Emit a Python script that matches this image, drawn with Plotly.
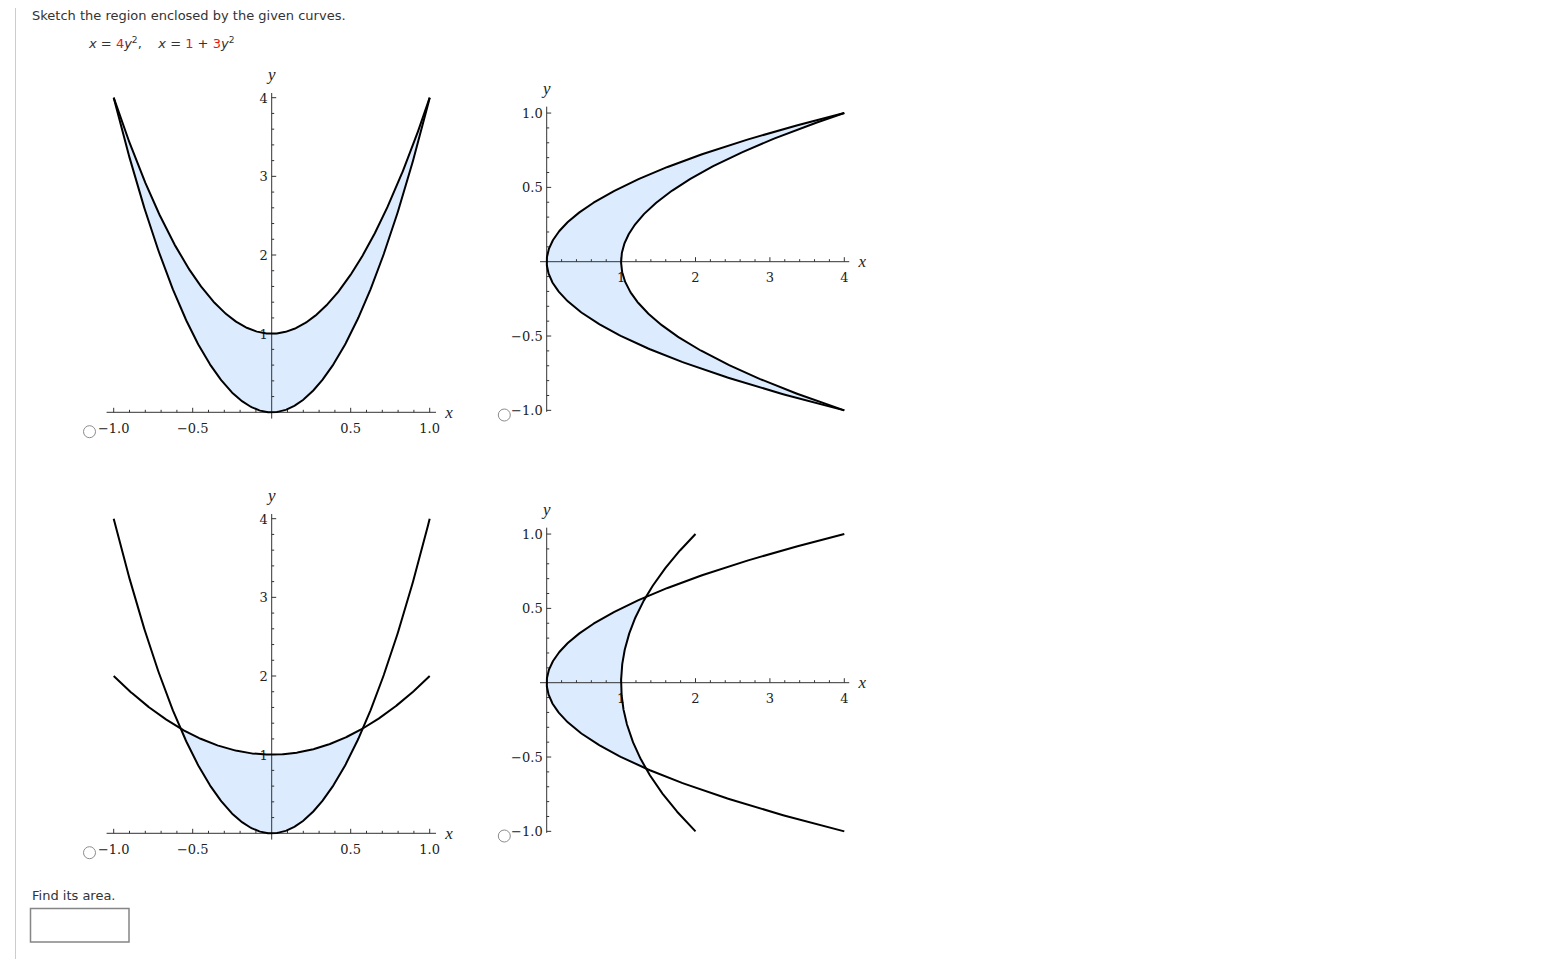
import numpy as np
import plotly.graph_objects as go

# ---------------- data ----------------
# each curve is  value = a * t^2 + b
CURVE_4Y2 = [4.0, 0.0]        # x = 4y^2
CURVE_1P3Y2 = [3.0, 1.0]      # x = 1 + 3y^2
CURVE_1PY2 = [1.0, 1.0]       # distractor: x = 1 + y^2
PARAM_RANGE = [-1.0, 1.0]     # parameter range drawn in every panel

PANEL_CURVES = [[CURVE_4Y2, CURVE_1P3Y2], [CURVE_4Y2, CURVE_1P3Y2],
                [CURVE_4Y2, CURVE_1PY2], [CURVE_4Y2, CURVE_1PY2]]
PANEL_ORIENT = ["y_of_x", "x_of_y", "y_of_x", "x_of_y"]

# tick definitions
UP_X_MAJOR = [-1.0, -0.5, 0.5, 1.0]
UP_X_LABELS = ["\u22121.0", "\u22120.5", "0.5", "1.0"]
UP_X_MINOR_STEP = 0.1
UP_Y_MAJOR = [1, 2, 3, 4]
UP_Y_LABELS = ["1", "2", "3", "4"]
UP_Y_MINOR_STEP = 0.2

SIDE_X_MAJOR = [1, 2, 3, 4]
SIDE_X_LABELS = ["1", "2", "3", "4"]
SIDE_X_MINOR_STEP = 0.2
SIDE_Y_MAJOR = [-1.0, -0.5, 0.5, 1.0]
SIDE_Y_LABELS = ["\u22121.0", "\u22120.5", "0.5", "1.0"]
SIDE_Y_MINOR_STEP = 0.1

# ---------------- layout helpers ----------------
W, H, OFF = 1528, 951, 8          # body has an 8px margin in the written page


def px(X):
    return (X - OFF) / W


def py(Y):
    return 1 - (Y - OFF) / H


# pixel origin/scale/box of each panel
PANELS = [
    dict(ox=271.7, oy=412.3, sx=158.0, sy=78.65, box=(70, 470, 55, 450)),
    dict(ox=546.7, oy=261.7, sx=74.4, sy=148.65, box=(480, 885, 75, 440)),
    dict(ox=271.7, oy=833.3, sx=158.0, sy=78.65, box=(70, 470, 476, 871)),
    dict(ox=546.7, oy=682.7, sx=74.4, sy=148.65, box=(480, 885, 496, 861)),
]
AXIS_EXT = [
    dict(x=(-1.045, 1.04), y=(-0.08, 4.06)),
    dict(x=(-0.09, 4.067), y=(-1.01, 1.043)),
    dict(x=(-1.045, 1.04), y=(-0.08, 4.06)),
    dict(x=(-0.09, 4.067), y=(-1.01, 1.043)),
]

FILL = "#DCECFE"
CURVE_COLOR = "#000000"
AXIS_COLOR = "#333333"
TICK_FONT = dict(family="DejaVu Serif", size=13, color="#222222")
LABEL_FONT = dict(family="Liberation Serif", size=17, color="#222222")

fig = go.Figure()


def minor_ticks(lo, hi, step):
    n = int(round((hi - lo) / step))
    return [round(lo + k * step, 6) for k in range(n + 1)]


for i, P in enumerate(PANELS):
    xa = "x" if i == 0 else f"x{i+1}"
    ya = "y" if i == 0 else f"y{i+1}"
    ox, oy, sx, sy = P["ox"], P["oy"], P["sx"], P["sy"]
    left, right, top, bottom = P["box"]
    kw = dict(xaxis=xa, yaxis=ya, showlegend=False, hoverinfo="skip")

    c1, c2 = PANEL_CURVES[i]
    orient = PANEL_ORIENT[i]
    # intersection parameter
    T = np.sqrt((c2[1] - c1[1]) / (c1[0] - c2[0]))
    T = min(T, PARAM_RANGE[1])
    t = np.linspace(-T, T, 300)
    v1 = c1[0] * t ** 2 + c1[1]
    v2 = c2[0] * t ** 2 + c2[1]
    pt = np.concatenate([t, t[::-1]])
    pv = np.concatenate([v1, v2[::-1]])
    if orient == "y_of_x":
        fx, fy = pt, pv
    else:
        fx, fy = pv, pt
    fig.add_trace(go.Scatter(x=fx, y=fy, mode="lines", fill="toself",
                             fillcolor=FILL, line=dict(width=0), **kw))

    # axes lines
    ext = AXIS_EXT[i]
    fig.add_trace(go.Scatter(x=[ext["x"][0], ext["x"][1], None, 0, 0],
                             y=[0, 0, None, ext["y"][0], ext["y"][1]],
                             mode="lines", line=dict(color=AXIS_COLOR, width=1), **kw))

    if orient == "y_of_x":
        xmaj, xlab, xstep = UP_X_MAJOR, UP_X_LABELS, UP_X_MINOR_STEP
        ymaj, ylab, ystep = UP_Y_MAJOR, UP_Y_LABELS, UP_Y_MINOR_STEP
        xmin_range = (-1.0, 1.0)
        ymin_range = (0.0, 4.0)
    else:
        xmaj, xlab, xstep = SIDE_X_MAJOR, SIDE_X_LABELS, SIDE_X_MINOR_STEP
        ymaj, ylab, ystep = SIDE_Y_MAJOR, SIDE_Y_LABELS, SIDE_Y_MINOR_STEP
        xmin_range = (0.0, 4.0)
        ymin_range = (-1.0, 1.0)

    MAJ, MIN = 4.5, 2.5
    tx, ty = [], []
    for v in minor_ticks(xmin_range[0], xmin_range[1], xstep):
        if abs(v) < 1e-9:
            continue
        L = MAJ if any(abs(v - m) < 1e-9 for m in xmaj) else MIN
        tx += [v, v, None]
        ty += [0, L / sy, None]
    for v in minor_ticks(ymin_range[0], ymin_range[1], ystep):
        if abs(v) < 1e-9:
            continue
        L = MAJ if any(abs(v - m) < 1e-9 for m in ymaj) else MIN
        tx += [0, L / sx, None]
        ty += [v, v, None]
    fig.add_trace(go.Scatter(x=tx, y=ty, mode="lines",
                             line=dict(color=AXIS_COLOR, width=1), **kw))

    # tick labels (below the curves)
    fig.add_trace(go.Scatter(x=xmaj, y=[-17.5 / sy] * len(xmaj), mode="text",
                             text=xlab, textposition="middle center",
                             textfont=TICK_FONT, **kw))
    fig.add_trace(go.Scatter(x=[-4.0 / sx] * len(ymaj),
                             y=[m - 1.8 / sy for m in ymaj], mode="text",
                             text=ylab, textposition="middle left",
                             textfont=TICK_FONT, **kw))
    # axis names
    fig.add_trace(go.Scatter(x=[(ext["x"][1] * sx + 13) / sx, 0],
                             y=[-1.5 / sy, (ext["y"][1] * sy + 17) / sy],
                             mode="text", text=["<i>x</i>", "<i>y</i>"],
                             textposition="middle center", textfont=LABEL_FONT, **kw))

    # curves over full parameter range
    tt = np.linspace(PARAM_RANGE[0], PARAM_RANGE[1], 400)
    for c in (c1, c2):
        vv = c[0] * tt ** 2 + c[1]
        cx, cy = (tt, vv) if orient == "y_of_x" else (vv, tt)
        fig.add_trace(go.Scatter(x=cx, y=cy, mode="lines",
                                 line=dict(color=CURVE_COLOR, width=2), **kw))

    xr = [(left - ox) / sx, (right - ox) / sx]
    yr = [(oy - bottom) / sy, (oy - top) / sy]
    axkey = "xaxis" if i == 0 else f"xaxis{i+1}"
    aykey = "yaxis" if i == 0 else f"yaxis{i+1}"
    fig.update_layout(**{
        axkey: dict(domain=[px(left), px(right)], range=xr, visible=False,
                    anchor=ya, fixedrange=True),
        aykey: dict(domain=[py(bottom), py(top)], range=yr, visible=False,
                    anchor=xa, fixedrange=True),
    })

# ---------------- page furniture ----------------
shapes = []
# left border
shapes.append(dict(type="line", xref="paper", yref="paper",
                   x0=px(15.5), x1=px(15.5), y0=-0.01, y1=1.01,
                   line=dict(color="#CCCCCC", width=1)))
# radio buttons
for cx, cy in [(89.5, 431.7), (504.3, 415.0), (89.5, 852.7), (504.3, 836.0)]:
    r = 6
    shapes.append(dict(type="circle", xref="paper", yref="paper",
                       x0=px(cx - r), x1=px(cx + r), y0=py(cy + r), y1=py(cy - r),
                       line=dict(color="#8C8C8C", width=1), fillcolor="white"))
# answer box
shapes.append(dict(type="rect", xref="paper", yref="paper",
                   x0=px(30.5), x1=px(129), y0=py(942), y1=py(908.5),
                   line=dict(color="#858585", width=1.5)))

TEXT_FONT = dict(family="DejaVu Sans", size=13, color="#333333")
RED = "#E8160C"
annotations = [
    dict(text="Sketch the region enclosed by the given curves.",
         x=px(30), y=py(15.5), xref="paper", yref="paper",
         xanchor="left", yanchor="middle", showarrow=False, font=TEXT_FONT),
    dict(text=(f"<i>x</i> = <span style='color:{RED}'>4</span><i>y</i><sup>2</sup>,"
               f"\u00a0\u00a0\u00a0 <i>x</i> = <span style='color:{RED}'>1</span> + "
               f"<span style='color:{RED}'>3</span><i>y</i><sup>2</sup>"),
         x=px(86), y=py(43), xref="paper", yref="paper",
         xanchor="left", yanchor="middle", showarrow=False, font=TEXT_FONT),
    dict(text="Find its area.",
         x=px(30), y=py(895.5), xref="paper", yref="paper",
         xanchor="left", yanchor="middle", showarrow=False, font=TEXT_FONT),
]

fig.update_layout(width=W, height=H, margin=dict(l=0, r=0, t=0, b=0),
                  paper_bgcolor="white", plot_bgcolor="rgba(0,0,0,0)",
                  shapes=shapes, annotations=annotations, showlegend=False,
                  dragmode=False)

fig.write_html("out.html", config={"displayModeBar": False, "staticPlot": True})
